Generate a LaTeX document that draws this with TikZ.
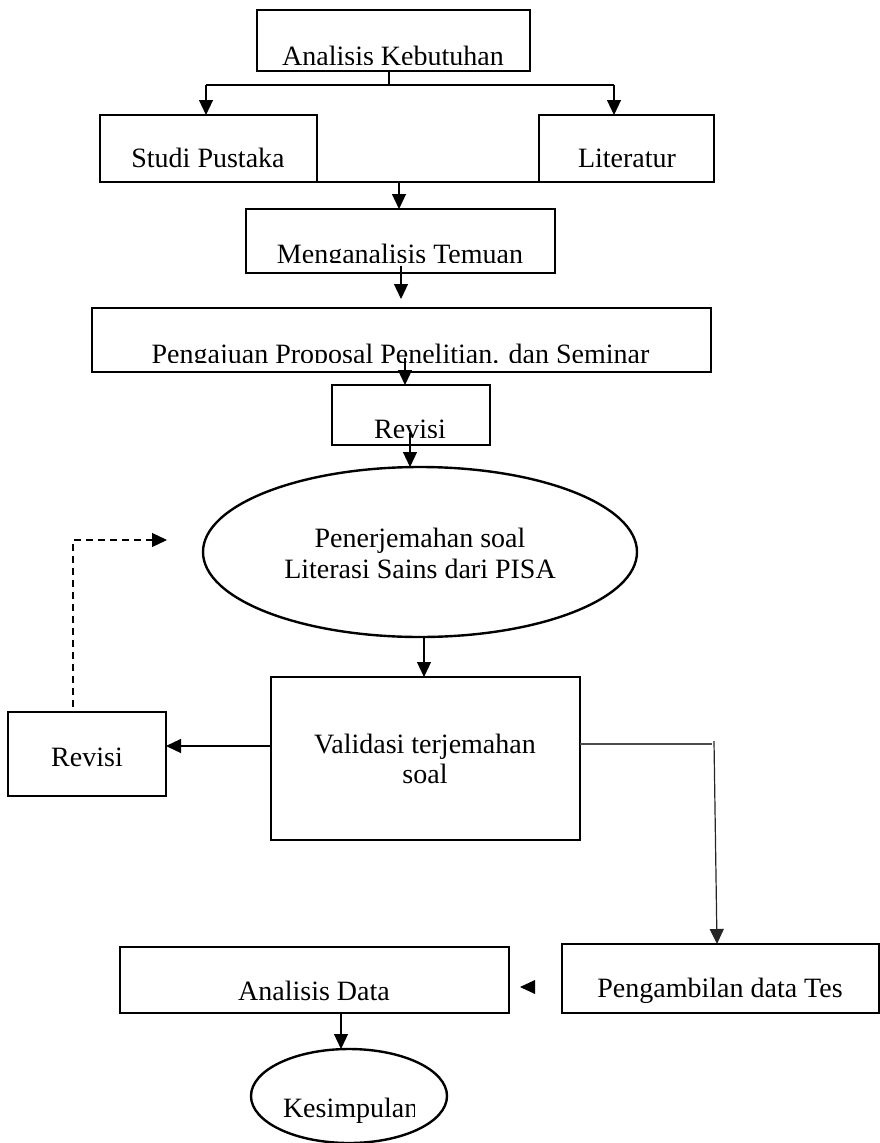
\documentclass[tikz,border=0pt]{standalone}
\usepackage{fontspec}
\setmainfont{Liberation Serif}
\usetikzlibrary{arrows.meta,shapes.geometric}
\begin{document}
\begin{tikzpicture}[x=1pt,y=-1pt,
  box/.style={draw,line width=2.5pt,rectangle,inner sep=0pt,outer sep=0pt},
  oval/.style={draw,line width=2.4pt,ellipse,inner sep=0pt,outer sep=0pt},
  lbl/.style={anchor=base,inner sep=0pt,outer sep=0pt,font=\fontsize{28}{32}\selectfont},
  con/.style={line width=1.2pt},
  arr/.style={con,-{Triangle[width=14pt,length=15pt]}},
  dsh/.style={line width=1.5pt,dash pattern=on 7pt off 5pt}]
\useasboundingbox (0,0) rectangle (880,1143);
% boxes
\node[box,minimum width=273pt,minimum height=61pt] (A) at (393.5,40.5) {};
\node[box,minimum width=217pt,minimum height=67pt] (S) at (208.5,148.5) {};
\node[box,minimum width=175pt,minimum height=67pt] (L) at (626.5,148.5) {};
\node[box,minimum width=309pt,minimum height=64pt] (M) at (400.5,241) {};
\node[box,minimum width=619pt,minimum height=64pt] (P) at (401.5,340) {};
\node[box,minimum width=158pt,minimum height=60pt] (R1) at (411,415) {};
\node[oval,minimum width=434pt,minimum height=170pt] (E) at (420,552) {};
\node[box,minimum width=309pt,minimum height=163pt] (V) at (425.5,758.5) {};
\node[box,minimum width=158pt,minimum height=84pt] (R2) at (87,754) {};
\node[box,minimum width=317pt,minimum height=69pt] (T) at (720.5,978.5) {};
\node[box,minimum width=389pt,minimum height=66pt] (D) at (314.5,980) {};
\node[oval,minimum width=196pt,minimum height=94pt] (K) at (349,1096) {};
% texts (some clipped as in the source)
\begin{scope}\clip (257,10) rectangle (530,64);
\node[lbl] (tA) at (393,65) {Analisis Kebutuhan};\end{scope}
\node[lbl] (tS) at (208,167) {Studi Pustaka};
\node[lbl] (tL) at (627,167) {Literatur};
\begin{scope}\clip (246,209) rectangle (555,262);
\node[lbl] (tM) at (400,263) {Menganalisis Temuan};\end{scope}
\begin{scope}\clip (92,308) rectangle (711,362);
\node[lbl] (tP) at (400.5,363) {Pengajuan Proposal Penelitian. dan Seminar};\end{scope}
\begin{scope}\clip (332,385) rectangle (490,437);
\node[lbl] (tR1) at (410,438) {Revisi};\end{scope}
\node[lbl] (tE1) at (420,547) {Penerjemahan soal};
\node[lbl] (tE2) at (420,578) {Literasi Sains dari PISA};
\node[lbl] (tV1) at (425,753) {Validasi terjemahan};
\node[lbl] (tV2) at (425,783) {soal};
\node[lbl] (tR2) at (87,766) {Revisi};
\node[lbl] (tT) at (720,997) {Pengambilan data Tes};
\node[lbl] (tD) at (314,1000) {Analisis Data};
\begin{scope}\clip (270,1060) rectangle (414,1140);
\node[lbl,anchor=base west] (tK) at (283,1117) {Kesimpulan};\end{scope}
% connectors
\coordinate (a1) at (389,85);
\coordinate (hl) at (206,85);
\coordinate (hr) at (614,85);
\draw[con] (A.south -| a1) -- (a1);
\draw[con] (hl) -- (hr);
\draw[arr] (hl) -- (hl |- S.north);
\draw[arr] (hr) -- (hr |- L.north);
\draw[con] (S.south east) -- (L.south west);
\coordinate (m1) at (399,182);
\draw[arr] (m1) -- (m1 |- M.north);
\coordinate (m2) at (401,266);
\coordinate (m2e) at (401,299);
\draw[arr] (m2) -- (m2e);
\coordinate (m3) at (405,358);
\draw[arr] (m3) -- (m3 |- R1.north);
\coordinate (m4) at (410,433);
\coordinate (m4e) at (410,467);
\draw[arr] (m4) -- (m4e);
\coordinate (m5) at (424,637);
\draw[arr] (m5) -- (m5 |- V.north);
\draw[arr] ([yshift=12.5pt]V.west) -- ([yshift=8pt]R2.east);
\coordinate (d1) at (73,707);
\coordinate (d2) at (73,540);
\coordinate (d3) at (167,540);
\draw[dsh] (d1) -- (d2) -- (d3);
\draw[arr,dash pattern=on 0pt off 0pt] ([xshift=-2pt]d3) -- (d3);
\coordinate (t1) at (712,744);
\draw[line width=1.5pt,black!70] ([yshift=14.5pt]V.east) -- (t1);
\coordinate (t2) at (714,741);
\coordinate (t3) at (717,944);
\draw[arr,black!85] (t2) -- (t3);
\fill (535,980) -- (535,994) -- (520,987) -- cycle;
\coordinate (k1) at (341,1013);
\draw[arr] (k1) -- (k1 |- K.north);
\end{tikzpicture}
\end{document}
